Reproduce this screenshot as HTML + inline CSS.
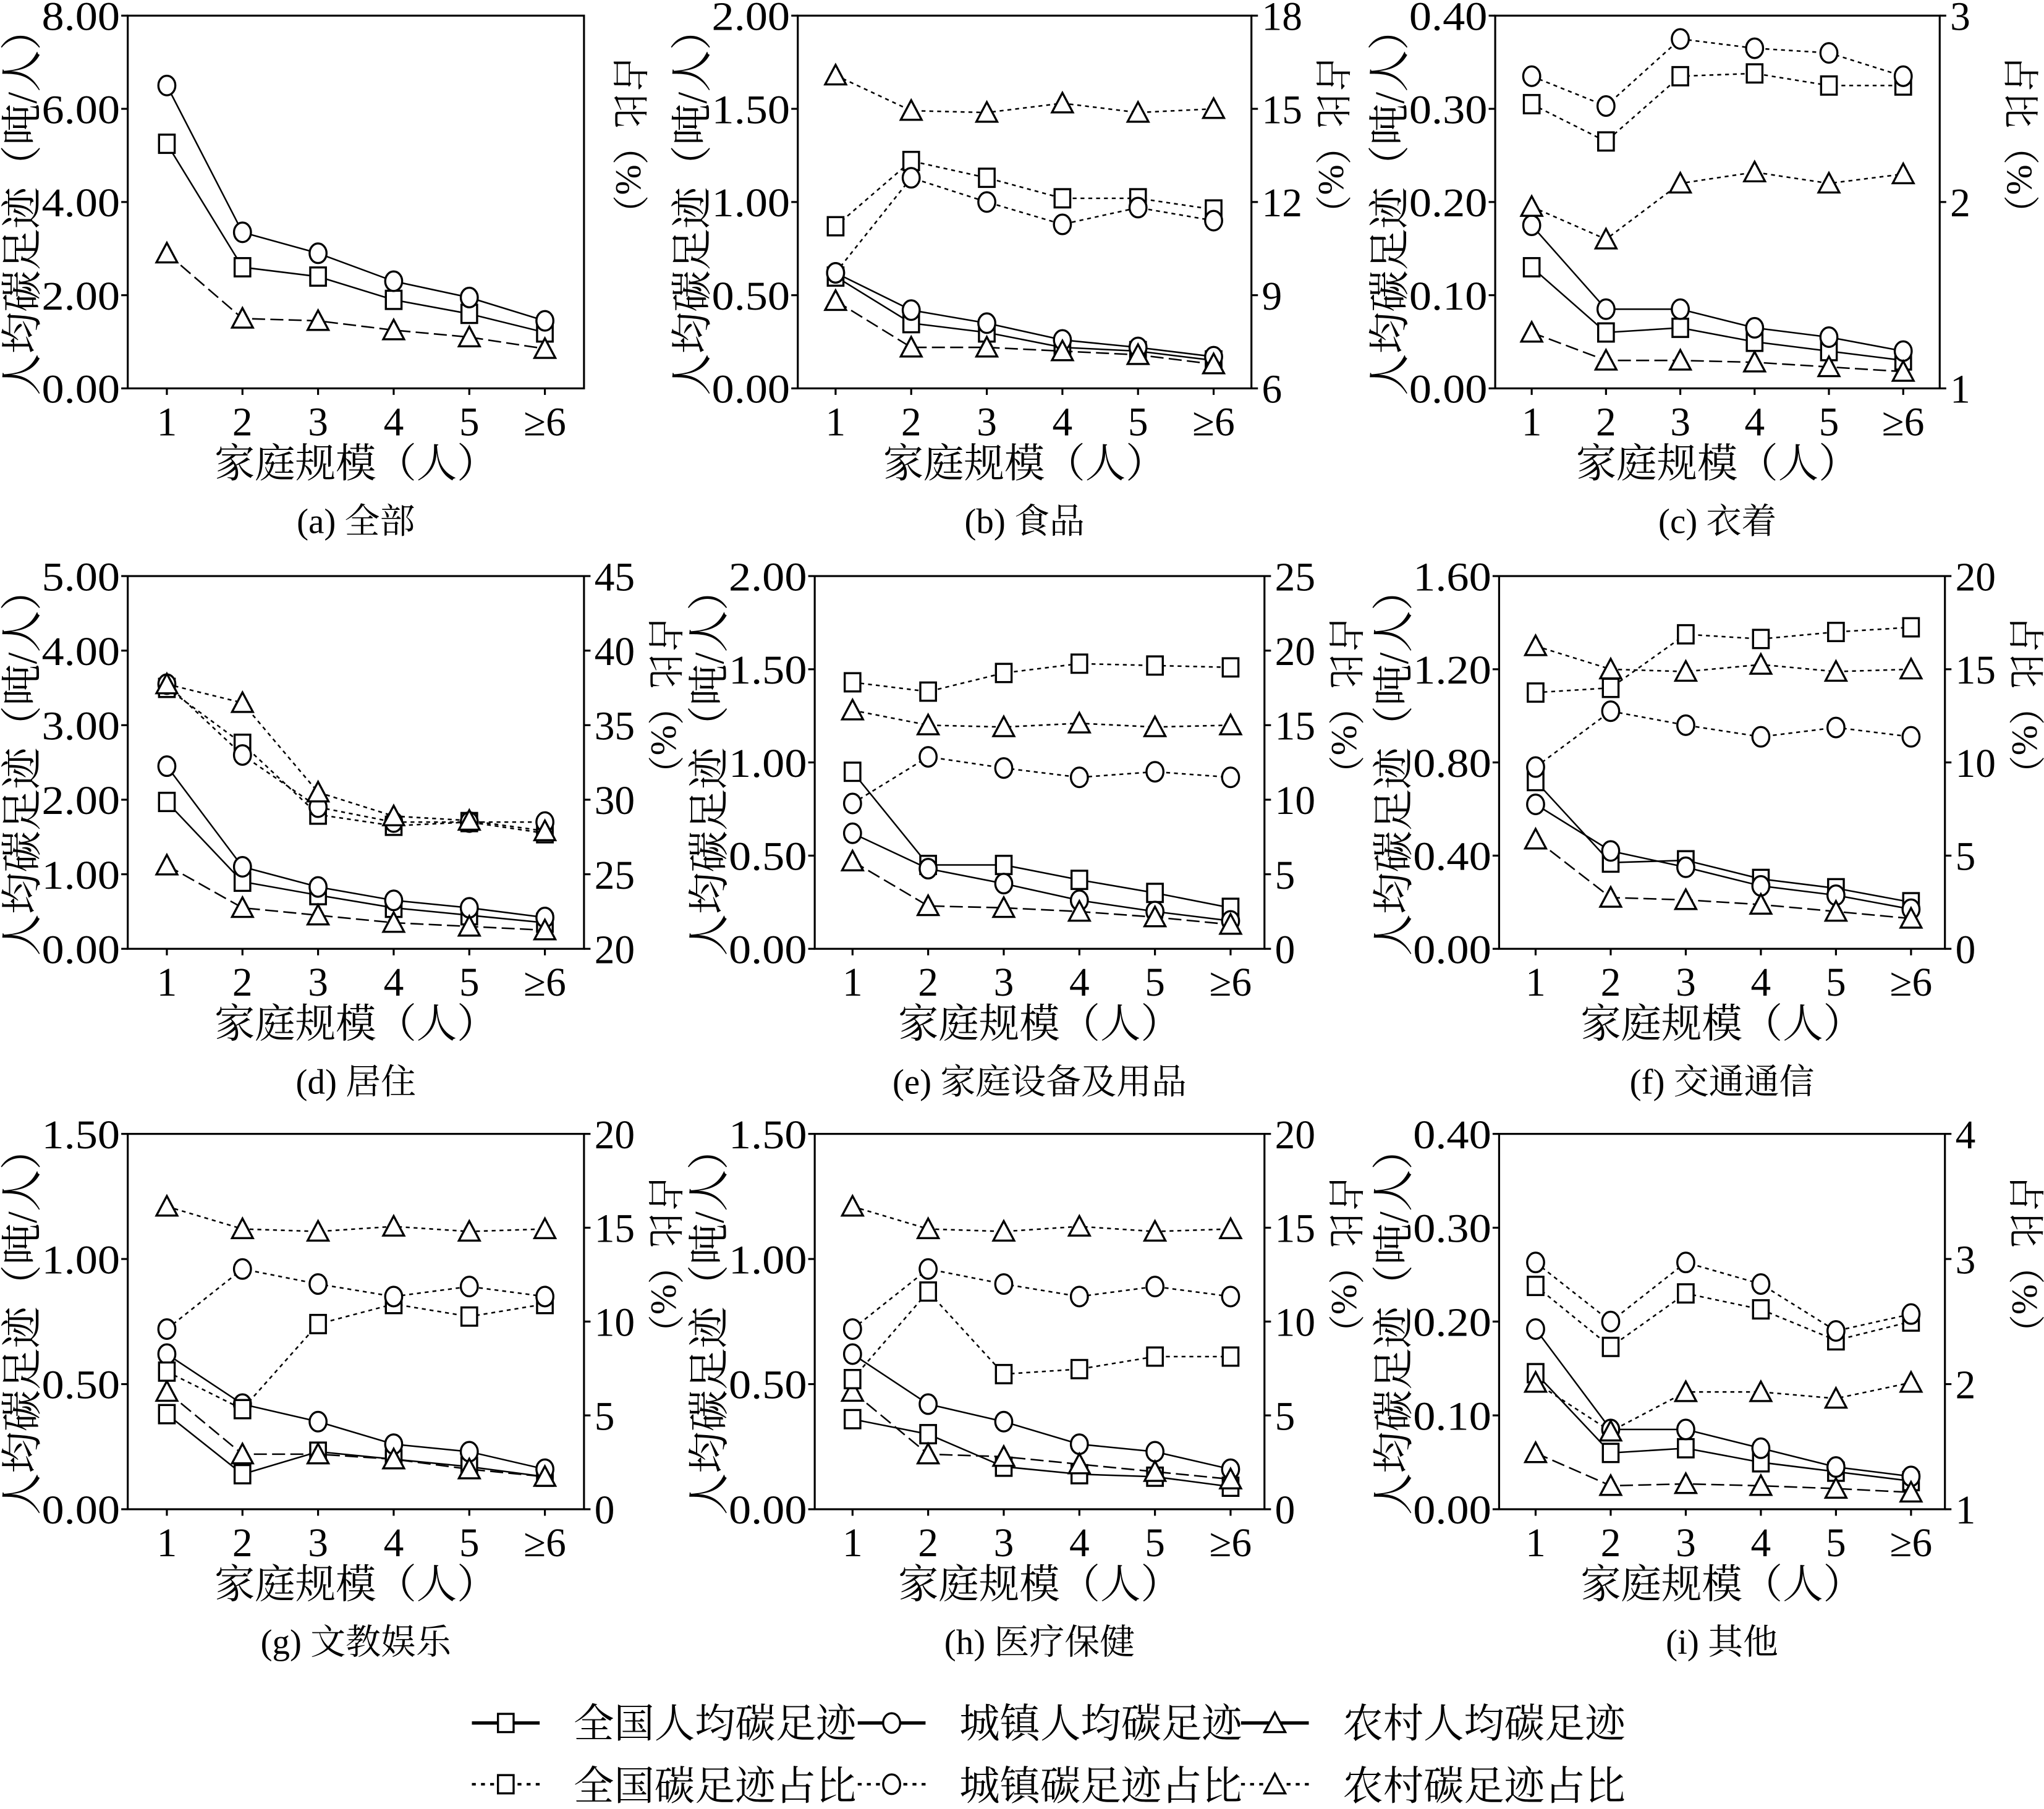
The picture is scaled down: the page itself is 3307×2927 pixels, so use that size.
<!DOCTYPE html>
<html><head><meta charset="utf-8">
<style>
html,body{margin:0;padding:0;background:#fff;}
svg{display:block;}
text{font-family:"Liberation Serif","Noto Serif CJK SC","Noto Sans CJK SC",serif;fill:#000;}
</style></head>
<body>
<svg id="s" xmlns="http://www.w3.org/2000/svg" width="3307" height="2927" viewBox="0 0 1568 1388" preserveAspectRatio="none"></svg>
<script>
const S=document.getElementById('s');
let h='';
const rows=[[12,298],[442,728],[870,1158]];
const cols=[{L:98,R:448,x1:128,sp:58},{L:612,R:960,x1:641,sp:58},{L:1147,R:1488,x1:1175,sp:57}];
const cols2=[{L:98,R:448,x1:128,sp:58},{L:625,R:970,x1:654,sp:58},{L:1150,R:1492,x1:1178,sp:57.6}];
const P=[
{r:0,c:cols[0],ymax:8,st:2,rt:null,cap:"(a) 全部",
 d:[[5.25,2.6,2.4,1.9,1.6,1.2],[6.5,3.35,2.9,2.3,1.95,1.45],[2.9,1.5,1.45,1.25,1.1,0.85]],s:null},
{r:0,c:cols[1],ymax:2,st:0.5,rt:[6,18,3],cap:"(b) 食品",
 d:[[0.6,0.35,0.3,0.22,0.2,0.15],[0.62,0.42,0.35,0.26,0.22,0.17],[0.47,0.22,0.22,0.2,0.18,0.13]],
 s:[[0.87,1.22,1.13,1.02,1.02,0.96],[0.62,1.13,1.0,0.88,0.97,0.9],[1.68,1.49,1.48,1.53,1.48,1.5]]},
{r:0,c:cols[2],ymax:0.4,st:0.1,rt:[1,3,1],cap:"(c) 衣着",
 d:[[0.13,0.06,0.065,0.05,0.04,0.03],[0.175,0.085,0.085,0.065,0.055,0.04],[0.06,0.03,0.03,0.028,0.023,0.018]],
 s:[[0.305,0.265,0.335,0.338,0.325,0.325],[0.335,0.303,0.375,0.365,0.36,0.335],[0.195,0.16,0.22,0.232,0.22,0.23]]},
{r:1,c:cols2[0],ymax:5,st:1,rt:[20,45,5],cap:"(d) 居住",
 d:[[1.97,0.9,0.72,0.55,0.45,0.35],[2.45,1.1,0.83,0.65,0.55,0.42],[1.12,0.55,0.45,0.35,0.3,0.25]],
 s:[[3.5,2.75,1.8,1.65,1.7,1.55],[3.55,2.6,1.9,1.7,1.7,1.7],[3.55,3.3,2.1,1.78,1.72,1.58]]},
{r:1,c:cols2[1],ymax:2,st:0.5,rt:[0,25,5],cap:"(e) 家庭设备及用品",
 d:[[0.95,0.45,0.45,0.37,0.3,0.22],[0.62,0.43,0.35,0.26,0.2,0.15],[0.47,0.23,0.22,0.2,0.17,0.13]],
 s:[[1.43,1.38,1.48,1.53,1.52,1.51],[0.78,1.03,0.97,0.92,0.95,0.92],[1.28,1.2,1.19,1.21,1.19,1.2]]},
{r:1,c:cols2[2],ymax:1.6,st:0.4,rt:[0,20,5],cap:"(f) 交通通信",
 d:[[0.72,0.37,0.38,0.3,0.26,0.2],[0.62,0.42,0.35,0.27,0.23,0.17],[0.47,0.22,0.21,0.19,0.16,0.13]],
 s:[[1.1,1.12,1.35,1.33,1.36,1.38],[0.78,1.02,0.96,0.91,0.95,0.91],[1.3,1.2,1.19,1.22,1.19,1.2]]},
{r:2,c:cols2[0],ymax:1.5,st:0.5,rt:[0,20,5],cap:"(g) 文教娱乐",
 d:[[0.38,0.14,0.23,0.2,0.17,0.13],[0.62,0.42,0.35,0.26,0.23,0.16],[0.47,0.22,0.22,0.2,0.16,0.13]],
 s:[[0.55,0.4,0.74,0.82,0.77,0.82],[0.72,0.96,0.9,0.85,0.89,0.85],[1.21,1.12,1.11,1.13,1.11,1.12]]},
{r:2,c:cols2[1],ymax:1.5,st:0.5,rt:[0,20,5],cap:"(h) 医疗保健",
 d:[[0.36,0.3,0.17,0.14,0.13,0.09],[0.62,0.42,0.35,0.26,0.23,0.16],[0.47,0.22,0.21,0.18,0.15,0.12]],
 s:[[0.52,0.87,0.54,0.56,0.61,0.61],[0.72,0.96,0.9,0.85,0.89,0.85],[1.21,1.12,1.11,1.13,1.11,1.12]]},
{r:2,c:cols2[2],ymax:0.4,st:0.1,rt:[1,4,1],cap:"(i) 其他",
 d:[[0.145,0.06,0.065,0.05,0.04,0.03],[0.192,0.085,0.085,0.065,0.045,0.035],[0.06,0.025,0.027,0.025,0.022,0.018]],
 s:[[0.238,0.173,0.23,0.213,0.18,0.2],[0.263,0.2,0.263,0.24,0.19,0.208],[0.135,0.083,0.125,0.125,0.118,0.135]]}
];
function mk(t,x,y){
 if(t==0)return `<rect x="${x-6}" y="${y-7}" width="12" height="14" fill="#fff" stroke="#000" stroke-width="1.6"/>`;
 if(t==1)return `<ellipse cx="${x}" cy="${y}" rx="6.5" ry="7.5" fill="#fff" stroke="#000" stroke-width="1.6"/>`;
 return `<polygon points="${x},${y-8} ${x-8},${y+7} ${x+8},${y+7}" fill="#fff" stroke="#000" stroke-width="1.6"/>`;
}
const xl=["1","2","3","4","5","≥6"];
P.forEach(p=>{
 const [T,B]=rows[p.r];const c=p.c;
 const Y=v=>B-(v/p.ymax)*(B-T);
 const X=i=>c.x1+i*c.sp;
 h+=`<rect x="${c.L}" y="${T}" width="${c.R-c.L}" height="${B-T}" fill="none" stroke="#000" stroke-width="1.5"/>`;
 const n=Math.round(p.ymax/p.st);
 for(let i=0;i<=n;i++){const v=i*p.st,y=Y(v);
  h+=`<line x1="${c.L-5}" y1="${y}" x2="${c.L}" y2="${y}" stroke="#000" stroke-width="1.5"/>`;
  h+=`<text x="${c.L-6}" y="${y+11}" font-size="31" text-anchor="end" textLength="60" lengthAdjust="spacingAndGlyphs">${v.toFixed(2)}</text>`;}
 if(p.rt){const [a,b,s]=p.rt;
  for(let v=a;v<=b+1e-9;v+=s){const y=B-(v-a)/(b-a)*(B-T);
   h+=`<line x1="${c.R}" y1="${y}" x2="${c.R+5}" y2="${y}" stroke="#000" stroke-width="1.5"/>`;
   h+=`<text x="${c.R+8}" y="${y+11}" font-size="31">${v}</text>`;}
 }
 xl.forEach((t,i)=>{h+=`<line x1="${X(i)}" y1="${B}" x2="${X(i)}" y2="${B+5}" stroke="#000" stroke-width="1.5"/>`;
  h+=`<text x="${X(i)}" y="${B+36}" font-size="31" text-anchor="middle">${t}</text>`;});
 const cx=(c.L+c.R)/2;
 h+=`<text x="${cx}" y="${B+68}" font-size="31" text-anchor="middle">家庭规模（人）</text>`;
 h+=`<text x="${cx}" y="${B+111}" font-size="27" text-anchor="middle">${p.cap}</text>`;
 const ym=(T+B)/2;
 h+=`<text transform="translate(${c.L-70},${ym}) rotate(-90)" font-size="32" text-anchor="middle">人均碳足迹（吨/人）</text>`;
 const rx=p.rt?c.R+52:c.R+25;
 h+=`<text transform="translate(${rx},${ym-45}) rotate(90)" font-size="28" text-anchor="middle">占比（%）</text>`;
 const dash=["","","10,4"];
 p.d.forEach((ser,k)=>{
  h+=`<polyline points="${ser.map((v,i)=>X(i)+','+Y(v)).join(' ')}" fill="none" stroke="#000" stroke-width="1.2" ${dash[k]?'stroke-dasharray="'+dash[k]+'"':''}/>`;});
 if(p.s)p.s.forEach(ser=>{
  h+=`<polyline points="${ser.map((v,i)=>X(i)+','+Y(v)).join(' ')}" fill="none" stroke="#000" stroke-width="1.2" stroke-dasharray="3,3"/>`;});
 p.d.forEach((ser,k)=>ser.forEach((v,i)=>h+=mk(k,X(i),Y(v))));
 if(p.s)p.s.forEach((ser,k)=>ser.forEach((v,i)=>h+=mk(k,X(i),Y(v))));
});
const lg=[[362,"全国人均碳足迹",0],[658,"城镇人均碳足迹",1],[952,"农村人均碳足迹",2]];
lg.forEach(([x,t,k])=>{
 h+=`<line x1="${x}" y1="1322" x2="${x+52}" y2="1322" stroke="#000" stroke-width="2.5"/>`;
 h+=mk(k,x+26,1322);
 h+=`<text x="${x+78}" y="1333" font-size="31">${t}</text>`;
 h+=`<line x1="${x}" y1="1369" x2="${x+52}" y2="1369" stroke="#000" stroke-width="2" stroke-dasharray="3,4"/>`;
 h+=mk(k,x+26,1369);
 h+=`<text x="${x+78}" y="1381" font-size="31">${t.replace('人均','')+'占比'}</text>`;
});
S.innerHTML=h;
</script>
</body></html>
